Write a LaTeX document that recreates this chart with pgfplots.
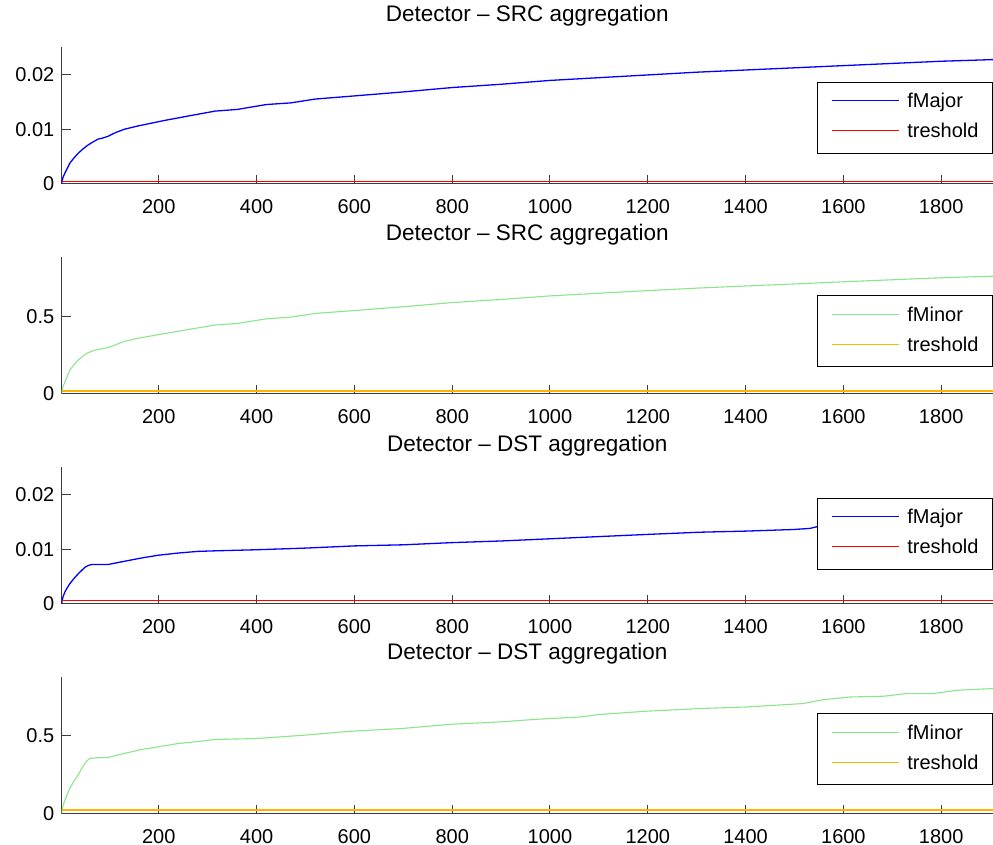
\documentclass[border=0pt]{standalone}
\usepackage{pgfplots}
\pgfplotsset{compat=1.18}
\usepackage{fontspec}
\setmainfont{Liberation Sans}
\definecolor{mblue}{rgb}{0,0,1}
\definecolor{mred}{rgb}{1,0,0}
\definecolor{mgreen}{RGB}{140,228,140}
\definecolor{morange}{RGB}{255,180,0}
\definecolor{axgray}{RGB}{60,60,60}
\newcommand{\ff}{\fontsize{20}{24}\selectfont}
\newcommand{\tf}{\fontsize{22.5}{27}\selectfont}
\pgfplotsset{
  mstyle/.style={
    scale only axis, width=931.5pt, height=137pt,
    xmin=1, xmax=1906,
    axis x line=bottom, axis y line=left,
    axis line style={-, axgray, line width=1pt},
    xtick={200,400,...,1800},
    tick align=inside, major tick length=9pt,
    every tick/.style={axgray, line width=1pt},
    /pgf/number format/assume math mode=true,
    /pgf/number format/1000 sep={},
    scaled ticks=false,
    tick label style={font=\ff},
    xticklabel style={inner sep=0pt, anchor=north, yshift=-15pt},
    yticklabel style={inner sep=0pt, anchor=east, xshift=-7pt},
    title style={font=\tf, at={(0.5,1)}, anchor=center},
    legend cell align=left,
    legend image code/.code={\draw[##1, line width=1pt] (0pt,2pt) -- (67pt,2pt); \path (75pt,2pt);},
    legend style={draw=black, line width=1pt, fill=white, anchor=north east,
      inner xsep=14pt, inner ysep=10.5pt, row sep=10pt,
      nodes={inner xsep=0pt, inner ysep=0pt, text height=15pt, text depth=5pt, font=\ff}},
  }
}
\begin{document}
\begin{tikzpicture}[font=\ff]
\useasboundingbox (0pt,0pt) rectangle (993pt,845pt);
% Panel 1
\begin{axis}[mstyle, at={(61.5pt,661pt)}, anchor=south west,
  ymin=0, ymax=0.025, ytick={0,0.01,0.02}, yticklabels={0,0.01,0.02},
  title={Detector -- SRC aggregation}, title style={yshift=25pt},
  legend style={at={(1,0.745)}}]
\addplot[mblue, line width=1.3pt] coordinates {
(1,0) (4,0.0012) (8,0.002) (13,0.0029) (18,0.0038) (26,0.0047) (35,0.0056) (45,0.0064) (55,0.0071) (66,0.0077) (76,0.0082) (86,0.0084) (96,0.0087)
(112,0.0094) (130,0.0100) (158,0.0106) (185,0.0111) (212,0.0116) (260,0.0124) (315,0.0133) (360,0.0136)
(420,0.0145) (470,0.0148) (520,0.0155) (590,0.0160) (700,0.0168) (800,0.0176)
(900,0.0182) (1000,0.0189) (1100,0.0194) (1200,0.0199) (1300,0.0204) (1400,0.0208)
(1500,0.0212) (1600,0.0216) (1700,0.0220) (1800,0.0224) (1906,0.0227)};
\addlegendentry{fMajor}
\addplot[mred, line width=1.3pt] coordinates {(1,0.0005) (1906,0.0005)};
\addlegendentry{treshold}
\end{axis}
% Panel 2
\begin{axis}[mstyle, at={(61.5pt,451pt)}, anchor=south west,
  ymin=0, ymax=0.884, ytick={0,0.5}, yticklabels={0,0.5},
  title={Detector -- SRC aggregation}, title style={yshift=16.5pt},
  legend style={at={(1,0.72)}}]
\addplot[mgreen, line width=1.1pt] coordinates {
(1,0) (4,0.045) (8,0.079) (13,0.115) (18,0.154) (26,0.187) (35,0.219) (45,0.245) (55,0.266) (66,0.279) (76,0.288) (86,0.293) (96,0.299)
(112,0.318) (130,0.34) (158,0.36) (185,0.375) (212,0.39) (260,0.416) (315,0.445) (360,0.455)
(420,0.485) (470,0.496) (520,0.52) (590,0.536) (700,0.563) (800,0.59)
(900,0.61) (1000,0.633) (1100,0.65) (1200,0.667) (1300,0.683) (1400,0.697)
(1500,0.71) (1600,0.724) (1700,0.737) (1800,0.75) (1906,0.76)};
\addlegendentry{fMinor}
\addplot[morange, line width=1.3pt] coordinates {(1,0.02) (1906,0.02)};
\addlegendentry{treshold}
\end{axis}
% Panel 3
\begin{axis}[mstyle, at={(61.5pt,241pt)}, anchor=south west,
  ymin=0, ymax=0.025, ytick={0,0.01,0.02}, yticklabels={0,0.01,0.02},
  title={Detector -- DST aggregation}, title style={yshift=15.5pt},
  legend style={at={(1,0.774)}}]
\addplot[mblue, line width=1.3pt] coordinates {
(1,0) (4,0.0013) (8,0.0022) (13,0.003) (18,0.0037) (26,0.0046) (35,0.0055) (42,0.0061) (49,0.0067) (55,0.007) (62,0.0072) (80,0.0072) (96,0.0072)
(130,0.0078) (165,0.0084) (199,0.0089) (240,0.0093) (280,0.0096) (315,0.0097)
(400,0.0099) (500,0.0102) (600,0.0106) (700,0.0108) (800,0.0112) (900,0.0115)
(1000,0.0119) (1100,0.0123) (1200,0.0127) (1307,0.0131) (1400,0.0133) (1500,0.0136)
(1532,0.0138) (1560,0.0144) (1614,0.0147) (1700,0.0151) (1800,0.0155) (1906,0.0158)};
\addlegendentry{fMajor}
\addplot[mred, line width=1.3pt] coordinates {(1,0.0007) (1906,0.0007)};
\addlegendentry{treshold}
\end{axis}
% Panel 4
\begin{axis}[mstyle, at={(61.5pt,31pt)}, anchor=south west,
  ymin=0, ymax=0.877, ytick={0,0.5}, yticklabels={0,0.5},
  title={Detector -- DST aggregation}, title style={yshift=17pt},
  legend style={at={(1,0.737)}}]
\addplot[mgreen, line width=1.1pt] coordinates {
(1,0) (4,0.05) (8,0.089) (13,0.128) (18,0.164) (26,0.208) (35,0.249) (42,0.29) (49,0.324) (54,0.343) (59,0.356) (75,0.36) (96,0.362)
(130,0.388) (165,0.413) (199,0.43) (240,0.451) (280,0.464) (315,0.477)
(400,0.483) (500,0.505) (584,0.528) (700,0.548) (800,0.575) (897,0.589)
(966,0.605) (1061,0.621) (1102,0.637) (1198,0.658) (1307,0.675) (1402,0.685)
(1518,0.707) (1559,0.732) (1614,0.749) (1682,0.754) (1730,0.771) (1784,0.771)
(1832,0.792) (1906,0.803)};
\addlegendentry{fMinor}
\addplot[morange, line width=1.3pt] coordinates {(1,0.025) (1906,0.025)};
\addlegendentry{treshold}
\end{axis}
\end{tikzpicture}
\end{document}
